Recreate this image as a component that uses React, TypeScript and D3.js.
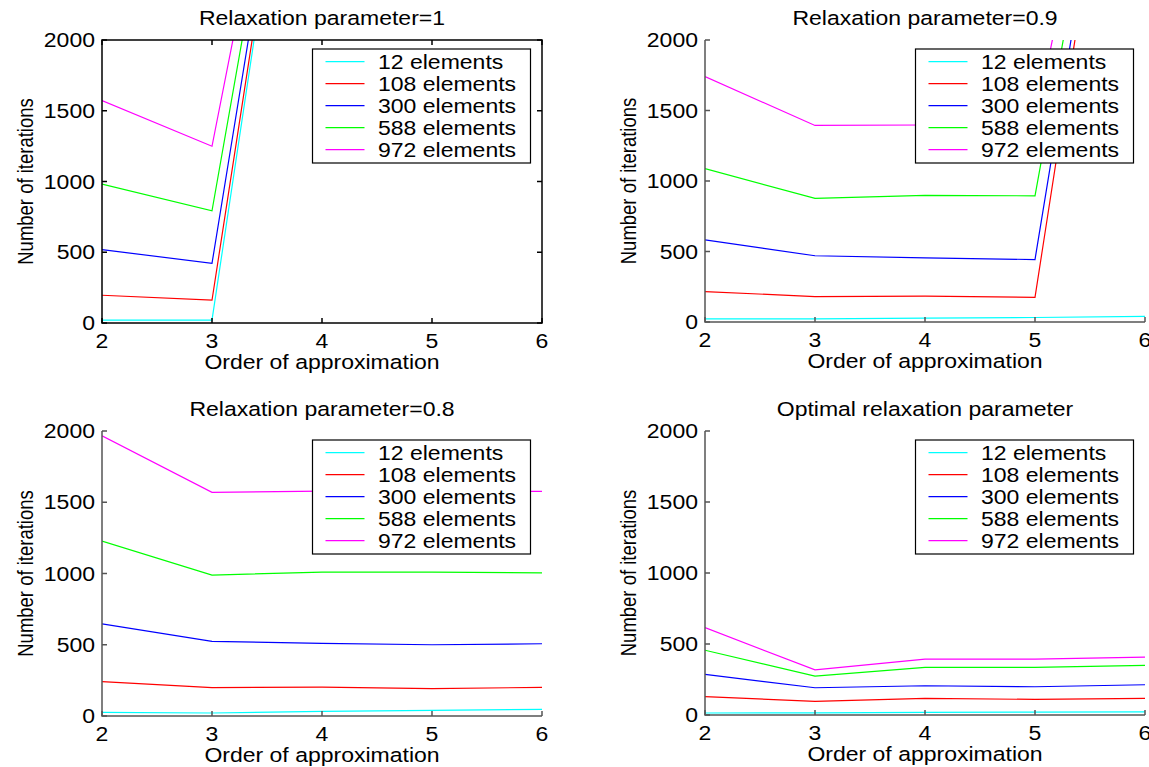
import { useEffect, useRef } from 'react'
import * as d3 from 'd3'

const orders = [2, 3, 4, 5, 6]
const meshLabels = ['12 elements', '108 elements', '300 elements', '588 elements', '972 elements']
const lineColors = ['#00ffff', '#ff0000', '#0000ff', '#00ff00', '#ff00ff']
const yTicks = [0, 500, 1000, 1500, 2000]

// iterations, one row per mesh, one column per order; values past 2000 get clipped
const relax10 = [
  [21, 20, 5200, 5200, 5200],
  [196, 161, 5200, 5200, 5200],
  [519, 421, 5200, 5200, 5200],
  [982, 793, 5200, 5200, 5200],
  [1572, 1249, 5200, 5200, 5200],
]
const relax09 = [
  [22, 22, 28, 32, 40],
  [216, 180, 183, 175, 5200],
  [582, 470, 455, 443, 5200],
  [1088, 877, 898, 895, 5200],
  [1740, 1394, 1397, 1400, 5200],
]
const relax08 = [
  [26, 21, 33, 40, 47],
  [241, 199, 203, 192, 201],
  [646, 524, 510, 500, 507],
  [1228, 989, 1010, 1010, 1004],
  [1966, 1570, 1578, 1575, 1576],
]
const relaxOpt = [
  [14, 15, 18, 20, 22],
  [129, 96, 117, 110, 117],
  [286, 192, 206, 199, 213],
  [456, 274, 335, 335, 349],
  [615, 318, 393, 393, 407],
]

const titles = ['Relaxation parameter=1', 'Relaxation parameter=0.9', 'Relaxation parameter=0.8', 'Optimal relaxation parameter']

// the source figure is stretched sideways, so text gets the same stretch
const SX = 1.18
const FONT = '"Liberation Sans", Arial, sans-serif'

export default function App() {
  const svgRef = useRef<SVGSVGElement>(null)

  useEffect(() => {
    if (!svgRef.current) return
    const svg = d3.select(svgRef.current)
    svg.selectAll('*').remove()

    const panels = [
      { title: titles[0], data: relax10, left: 102, top: 40, bottom: 323, boxed: true },
      { title: titles[1], data: relax09, left: 705, top: 40, bottom: 322, boxed: false },
      { title: titles[2], data: relax08, left: 102, top: 431, bottom: 716, boxed: false },
      { title: titles[3], data: relaxOpt, left: 705, top: 431, bottom: 715, boxed: false },
    ]
    const w = 440

    const addText = (g: any, x: number, y: number, str: string, anchor: string, size: number, rotate = false) =>
      g.append('text')
        .attr('transform', `translate(${x},${y}) scale(${SX},1)${rotate ? ' rotate(-90)' : ''}`)
        .attr('text-anchor', anchor)
        .attr('font-family', FONT)
        .attr('font-size', size)
        .attr('fill', '#000')
        .text(str)

    panels.forEach((p, pi) => {
      const x = d3.scaleLinear().domain([2, 6]).range([p.left, p.left + w])
      const y = d3.scaleLinear().domain([0, 2000]).range([p.bottom, p.top])
      const g = svg.append('g')
      const axisColor = p.boxed ? '#000' : '#555'

      svg.append('clipPath')
        .attr('id', `clip${pi}`)
        .append('rect')
        .attr('x', p.left)
        .attr('y', p.top)
        .attr('width', w)
        .attr('height', p.bottom - p.top)

      const line = d3.line<number>()
        .x((_, i) => x(orders[i]))
        .y(d => y(d))

      g.append('g')
        .attr('clip-path', `url(#clip${pi})`)
        .selectAll('path')
        .data(p.data)
        .join('path')
        .attr('d', d => line(d))
        .attr('fill', 'none')
        .attr('stroke', (_, i) => lineColors[i])
        .attr('stroke-width', 1.2)

      // axes
      const ax = g.append('g').attr('stroke', axisColor).attr('stroke-width', 1.5).attr('fill', 'none')
      if (p.boxed) {
        ax.append('rect').attr('x', p.left).attr('y', p.top).attr('width', w).attr('height', p.bottom - p.top)
      } else {
        ax.append('path').attr('d', `M${p.left},${p.top}V${p.bottom}H${p.left + w}`)
      }
      const tk = 5
      yTicks.forEach(v => {
        ax.append('line').attr('x1', p.left).attr('x2', p.left + tk).attr('y1', y(v)).attr('y2', y(v))
        if (p.boxed) ax.append('line').attr('x1', p.left + w).attr('x2', p.left + w - tk).attr('y1', y(v)).attr('y2', y(v))
        addText(g, p.left - 7, y(v) + 7, String(v), 'end', 19.5)
      })
      orders.forEach(v => {
        ax.append('line').attr('x1', x(v)).attr('x2', x(v)).attr('y1', p.bottom).attr('y2', p.bottom - tk)
        if (p.boxed) ax.append('line').attr('x1', x(v)).attr('x2', x(v)).attr('y1', p.top).attr('y2', p.top + tk)
        addText(g, x(v), p.bottom + 25, String(v), 'middle', 19.5)
      })

      addText(g, p.left + w / 2, p.top - 15, p.title, 'middle', 19.5)
      addText(g, p.left + w / 2, p.bottom + 46, 'Order of approximation', 'middle', 19.5)
      addText(g, p.left - 69, (p.top + p.bottom) / 2, 'Number of iterations', 'middle', 18.5, true)

      // legend
      const lr = p.left + w - 11.5
      const ll = lr - 218
      const lt = p.top + 9
      const lg = g.append('g')
      lg.append('rect')
        .attr('x', ll).attr('y', lt).attr('width', 218).attr('height', 114)
        .attr('fill', '#fff').attr('stroke', '#000').attr('stroke-width', 1.2)
      meshLabels.forEach((lab, i) => {
        const cy = lt + 12.6 + i * 22
        lg.append('line')
          .attr('x1', ll + 13).attr('x2', ll + 52).attr('y1', cy).attr('y2', cy)
          .attr('stroke', lineColors[i]).attr('stroke-width', 1.2)
        addText(lg, ll + 65.5, cy + 7, lab, 'start', 19.5)
      })
    })
  }, [])

  return (
    <svg
      ref={svgRef}
      width={1149}
      height={767}
      style={{ position: 'absolute', left: 0, top: 0, background: '#fff', display: 'block' }}
    />
  )
}
